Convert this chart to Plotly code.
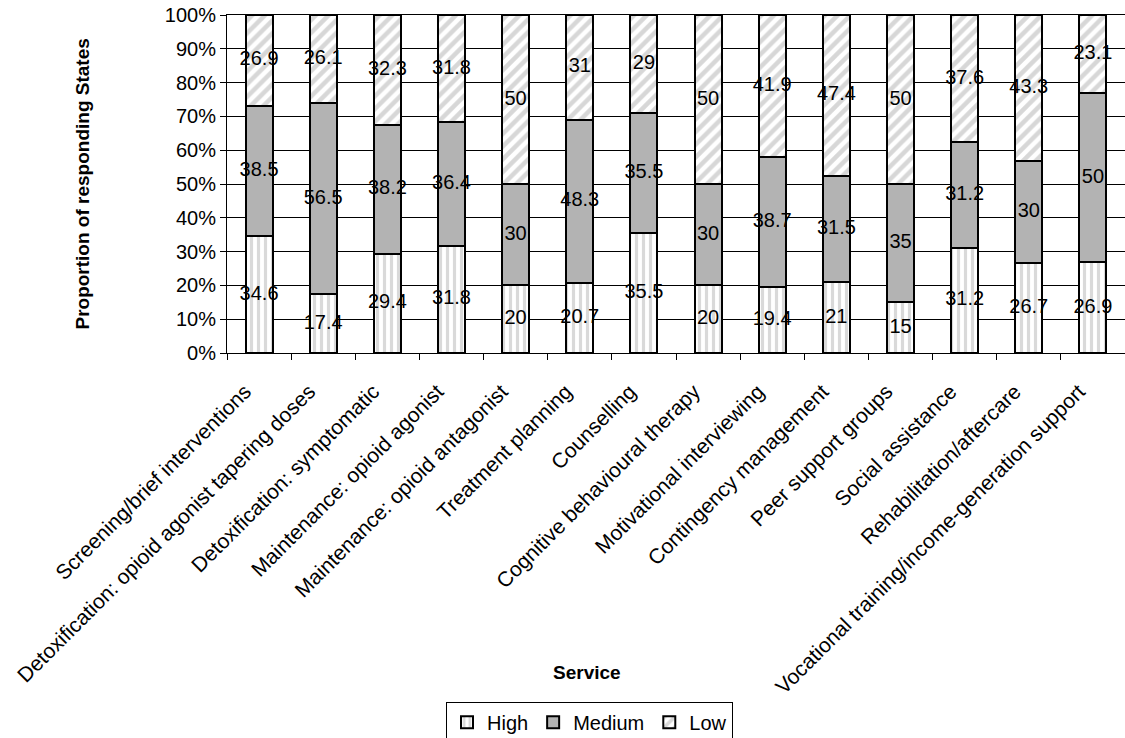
import plotly.graph_objects as go

services = [
    "Screening/brief interventions",
    "Detoxification: opioid agonist tapering doses",
    "Detoxification: symptomatic",
    "Maintenance: opioid agonist",
    "Maintenance: opioid antagonist",
    "Treatment planning",
    "Counselling",
    "Cognitive behavioural therapy",
    "Motivational interviewing",
    "Contingency management",
    "Peer support groups",
    "Social assistance",
    "Rehabilitation/aftercare",
    "Vocational training/income-generation support",
]
high = [34.6, 17.4, 29.4, 31.8, 20, 20.7, 35.5, 20, 19.4, 21, 15, 31.2, 26.7, 26.9]
medium = [38.5, 56.5, 38.2, 36.4, 30, 48.3, 35.5, 30, 38.7, 31.5, 35, 31.2, 30, 50]
low = [26.9, 26.1, 32.3, 31.8, 50, 31, 29, 50, 41.9, 47.4, 50, 37.6, 43.3, 23.1]
y_ticks = list(range(0, 101, 10))
y_tick_text = [f"{v}%" for v in y_ticks]

FONT = "Liberation Sans, Arial, sans-serif"
fig = go.Figure()

line = dict(color="black", width=2)
fig.add_bar(name="High", x=services, y=high,
            marker=dict(color="white", line=line,
                        pattern=dict(shape="|", fgcolor="#b4b4b4", bgcolor="white",
                                     size=7, solidity=0.45)))
fig.add_bar(name="Medium", x=services, y=medium,
            marker=dict(color="#b3b3b3", line=line))
fig.add_bar(name="Low", x=services, y=low,
            marker=dict(color="white", line=line,
                        pattern=dict(shape="/", fgcolor="#b0b0b0", bgcolor="white",
                                     size=9, solidity=0.5)))

# data labels at the centre of each segment
base = [0.0] * len(services)
for series in (high, medium, low):
    ys = [b + v / 2 for b, v in zip(base, series)]
    fig.add_scatter(x=services, y=ys, mode="text",
                    text=[f"{v:g}" for v in series],
                    textfont=dict(family=FONT, size=20, color="black"),
                    showlegend=False, hoverinfo="skip")
    base = [b + v for b, v in zip(base, series)]

fig.update_layout(
    barmode="stack",
    bargap=0.58,
    width=1125, height=738,
    margin=dict(l=227, r=0, t=15, b=385),
    plot_bgcolor="white", paper_bgcolor="white",
    font=dict(family=FONT, size=20, color="black"),
    legend=dict(orientation="h", xref="container", yref="container",
                x=0.524, xanchor="center", y=0.049, yanchor="top",
                bordercolor="black", borderwidth=1,
                font=dict(size=20), traceorder="normal",
                itemwidth=30),
    annotations=[
        dict(text="<b>Proportion of responding States</b>", textangle=-90,
             xref="paper", yref="paper", x=-0.162, y=0.5,
             xanchor="center", yanchor="middle", showarrow=False,
             font=dict(size=19)),
        dict(text="<b>Service</b>", xref="paper", yref="paper",
             x=0.401, y=-0.944, xanchor="center", yanchor="middle",
             showarrow=False, font=dict(size=19)),
    ],
)
fig.update_xaxes(
    range=[-0.5, len(services) - 0.5],
    tickangle=-45, ticks="outside", tickson="boundaries", ticklen=6,
    tickcolor="black", showline=True, linecolor="black", linewidth=1,
    mirror=True,
    ticklabelshift=-14, ticklabelstandoff=17,
    showgrid=False, tickfont=dict(size=21), automargin=False,
)
fig.update_yaxes(
    range=[0, 100], tickvals=y_ticks, ticktext=y_tick_text,
    ticks="outside", ticklen=6, tickcolor="black",
    showline=True, linecolor="black", linewidth=1,
    showgrid=True, gridcolor="black", gridwidth=1,
    tickfont=dict(size=20), automargin=False, zeroline=False,
)

fig.write_html(
    "out.html",
    config={"displayModeBar": False},
    post_script="document.body.style.margin='0px';document.body.style.overflow='hidden';",
)
